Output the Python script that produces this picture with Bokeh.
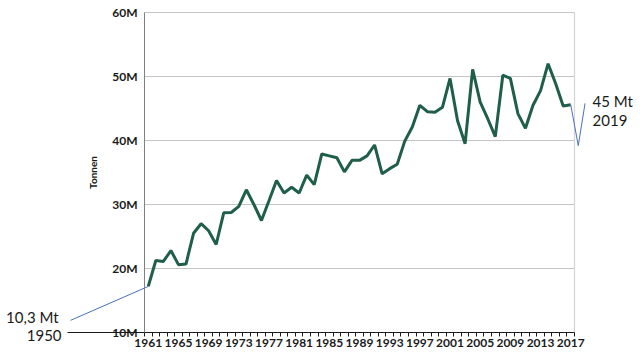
from bokeh.plotting import figure
from bokeh.models import Range1d, FixedTicker, Label, LinearAxis
from bokeh.embed import file_html
from bokeh.resources import INLINE

# ---- data (millions of tonnes) ----
years = list(range(1961, 2018))
production_mt = [17.2, 21.25, 21.1, 22.8, 20.6, 20.7, 25.5, 27.0, 25.9, 23.75,
                 28.7, 28.75, 29.7, 32.3, 30.0, 27.5, 30.6, 33.75, 31.8, 32.7,
                 31.8, 34.6, 33.1, 37.9, 37.6, 37.3, 35.1, 36.9, 36.9, 37.6,
                 39.3, 34.8, 35.6, 36.3, 39.9, 42.1, 45.5, 44.5, 44.4, 45.2,
                 49.7, 43.1, 39.5, 51.1, 46.0, 43.4, 40.6, 50.2, 49.7, 44.2,
                 41.9, 45.5, 47.8, 52.0, 48.9, 45.4, 45.6]
y_ticks = [10, 20, 30, 40, 50, 60]
y_tick_labels = ["10M", "20M", "30M", "40M", "50M", "60M"]
x_tick_years = list(range(1961, 2018, 4))

# annotation guide lines (year, Mt)
start_guide_years = [1950.7, 1961]
start_guide_vals = [11.9, 17.2]
base_start_year = 1950.3
end_guide_years = [2017.0, 2018.0, 2018.9]
end_guide_vals = [45.6, 39.2, 45.8]

x_lo, x_hi = years[0] - 0.5, years[-1] + 0.5
y_lo, y_hi = y_ticks[0], y_ticks[-1]

# canvas-wide frame; the plot box sits inside it
p = figure(width=640, height=357, output_backend="svg", toolbar_location=None,
           x_range=Range1d(1941.41, 2026.25), y_range=Range1d(6.094, 61.875),
           x_axis_location=None, y_axis_location=None,
           min_border_left=0, min_border_right=0, min_border_top=0,
           min_border_bottom=0)
p.background_fill_color = "white"
p.border_fill_color = "white"
p.outline_line_color = None
p.grid.visible = False

# gridlines and right border of the plot box
p.segment(x0=[x_lo] * 5, x1=[x_hi] * 5, y0=y_ticks[1:], y1=y_ticks[1:],
          line_color="#c4c4c4", line_width=1)
p.segment(x0=[x_hi], x1=[x_hi], y0=[y_lo], y1=[y_hi], line_color="#d4d4d4", line_width=1.2)

# y axis
ya = LinearAxis(fixed_location=x_lo, bounds=(y_lo, y_hi))
ya.ticker = FixedTicker(ticks=y_ticks)
ya.major_label_overrides = {t: l for t, l in zip(y_ticks, y_tick_labels)}
ya.major_tick_out = 0
ya.major_tick_in = 0
ya.minor_tick_out = 0
ya.minor_tick_in = 0
ya.axis_line_color = "#808080"
ya.major_label_text_font = "Lato"
ya.major_label_text_font_style = "bold"
ya.major_label_text_font_size = "12px"
ya.major_label_text_color = "#1a1a1a"
ya.major_label_standoff = 7
ya.axis_label = "Tonnen"
ya.axis_label_text_font = "Lato"
ya.axis_label_text_font_style = "bold"
ya.axis_label_text_font_size = "10px"
ya.axis_label_text_color = "#1a1a1a"
ya.axis_label_standoff = 10
p.add_layout(ya, "left")

# x axis (line continues left to the 1950 note)
minor = [y - 0.5 for y in years] + [x_hi]
xa = LinearAxis(fixed_location=y_lo, bounds=(base_start_year, x_hi))
xa.ticker = FixedTicker(ticks=x_tick_years, minor_ticks=minor)
xa.major_tick_out = 0
xa.major_tick_in = 0
xa.minor_tick_out = 4
xa.minor_tick_in = 0
xa.minor_tick_line_color = "#1a1a1a"
xa.axis_line_color = "#1a1a1a"
xa.axis_line_width = 1.2
xa.major_label_text_font = "Lato"
xa.major_label_text_font_style = "bold"
xa.major_label_text_font_size = "12px"
xa.major_label_text_color = "#1a1a1a"
xa.major_label_standoff = 2
p.add_layout(xa, "below")

# series
p.line(years, production_mt, line_color="#1f5e48", line_width=3)

blue = "#4a6fc0"
p.line(start_guide_years, start_guide_vals, line_color=blue, line_width=1)
p.line(end_guide_years, end_guide_vals, line_color=blue, line_width=1)

def add_text(x, y, t, align):
    p.add_layout(Label(x=x, y=y, text=t, text_align=align, text_baseline="middle",
                       text_font="Lato", text_font_size="15px", text_color="#1a1a1a"))

add_text(1949.1, 12.5, "10,3 Mt", "right")
add_text(1949.5, 9.55, "1950", "right")
add_text(2019.9, 46.2, "45 Mt", "left")
add_text(2019.9, 43.1, "2019", "left")

open("out.html", "w").write(file_html(p, INLINE))
